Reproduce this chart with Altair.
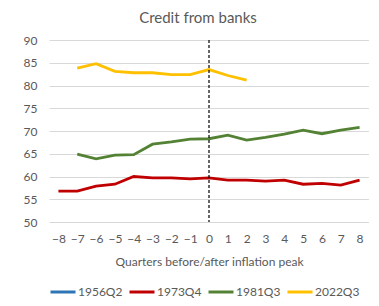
import altair as alt
import pandas as pd

quarters = list(range(-8, 9))
s1956 = [None] * 17
s1973 = [56.8, 56.8, 57.9, 58.3, 60.0, 59.7, 59.7, 59.5, 59.7, 59.2, 59.2, 59.0, 59.2, 58.3, 58.5, 58.1, 59.2]
s1981 = [None, 64.9, 63.9, 64.7, 64.8, 67.1, 67.6, 68.2, 68.3, 69.1, 68.0, 68.6, 69.3, 70.2, 69.4, 70.2, 70.8]
s2022 = [None, 83.8, 84.8, 83.1, 82.8, 82.8, 82.4, 82.4, 83.5, 82.2, 81.2, None, None, None, None, None, None]

series_names = ["1956Q2", "1973Q4", "1981Q3", "2022Q3"]
series_colors = ["#2E75B6", "#C00000", "#548235", "#FFC000"]

rows = []
for name, vals in zip(series_names, [s1956, s1973, s1981, s2022]):
    for q, v in zip(quarters, vals):
        if v is not None:
            rows.append({"q": q, "v": v, "s": name})
df = pd.DataFrame(rows)

FONT = "Lato"
GRAY = "#595959"

x = alt.X("q:Q", title="Quarters before/after inflation peak",
          scale=alt.Scale(domain=[-8.5, 8.5], nice=False, zero=False),
          axis=alt.Axis(values=quarters, grid=False, domain=False, ticks=False,
                        labelOverlap=False, labelFlush=False, labelPadding=11, titlePadding=12))
y = alt.Y("v:Q", title=None,
          scale=alt.Scale(domain=[50, 90], nice=False, zero=False),
          axis=alt.Axis(values=list(range(50, 95, 5)), domain=False, ticks=False,
                        labelPadding=12, gridColor="#D9D9D9", gridWidth=1))

lines = alt.Chart(df).mark_line(strokeWidth=2.8).encode(
    x=x, y=y,
    color=alt.Color("s:N", scale=alt.Scale(domain=series_names, range=series_colors),
                    legend=alt.Legend(title=None, orient="bottom", direction="horizontal",
                                      symbolType="stroke", symbolSize=625, symbolStrokeWidth=3,
                                      labelFontSize=12, columnPadding=0, symbolOffset=0,
                                      labelOffset=1, offset=11)),
    detail="s:N",
)

vline = alt.Chart(pd.DataFrame({"q": [0]})).mark_rule(
    color="black", strokeDash=[3, 2], strokeWidth=1.2
).encode(x=x)

chart = alt.layer(lines, vline).properties(
    width=320, height=182,
    title=alt.TitleParams("Credit from banks", fontSize=15, color=GRAY, font=FONT,
                          fontWeight="normal", offset=8, dx=-11),
    padding={"left": 15, "top": 3, "right": 0, "bottom": 0},
).configure_view(stroke=None).configure_axis(
    labelFont=FONT, titleFont=FONT, labelColor=GRAY, titleColor=GRAY,
    labelFontSize=12, titleFontSize=12, titleFontWeight="normal"
).configure_legend(labelFont=FONT, labelColor=GRAY)

chart.save("out.html", embed_options={"renderer": "svg", "actions": False})
